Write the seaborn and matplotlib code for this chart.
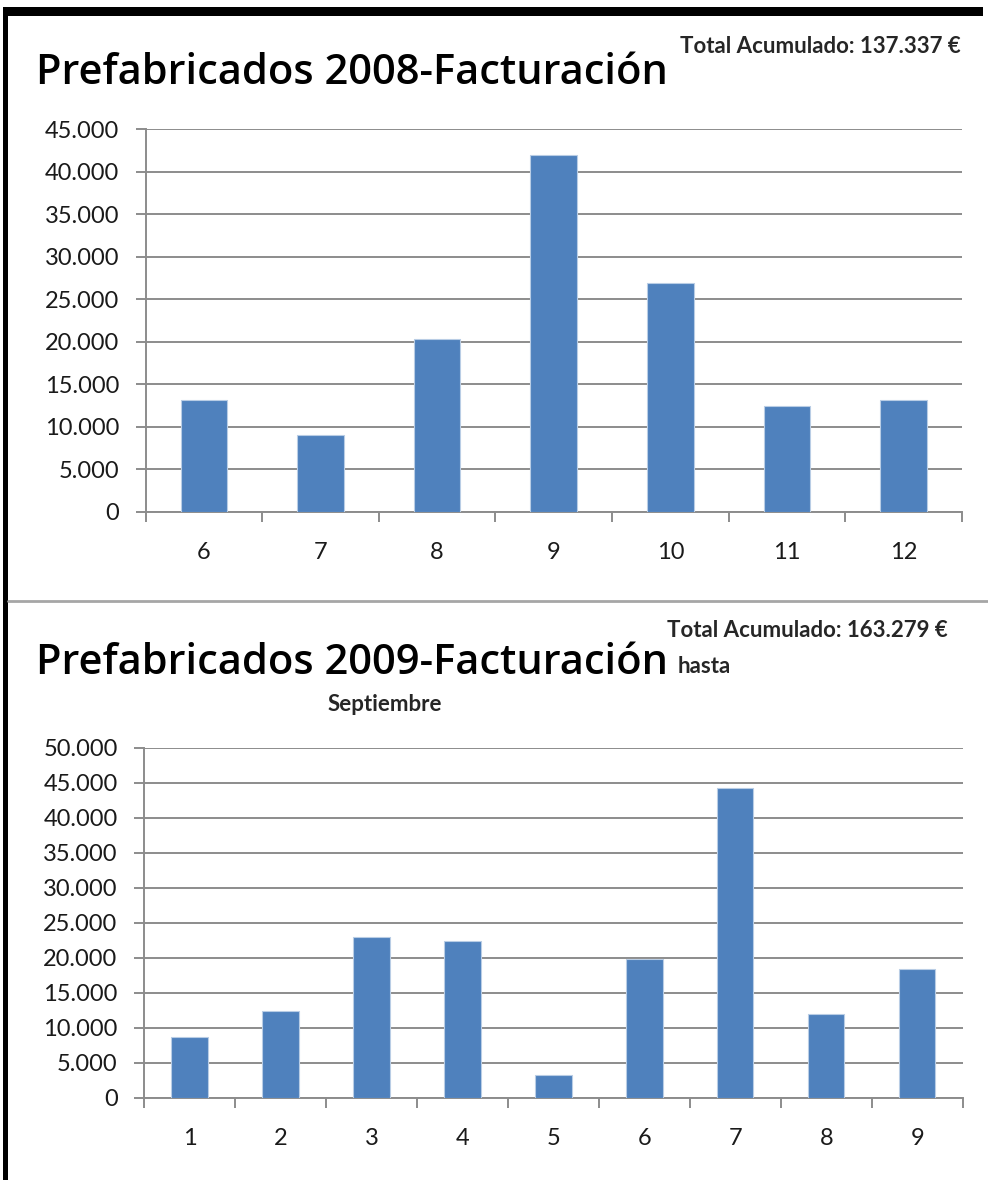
import matplotlib
matplotlib.use("Agg")
import matplotlib.pyplot as plt
from matplotlib.patches import Rectangle
from matplotlib.lines import Line2D
from matplotlib.ticker import FuncFormatter, FixedLocator
import seaborn as sns
import numpy as np
import pandas as pd

# --- data ---
months_2008 = ["6", "7", "8", "9", "10", "11", "12"]
fact_2008 = [13150, 9000, 20350, 42000, 26950, 12450, 13150]
total_2008 = "137.337 €"

months_2009 = ["1", "2", "3", "4", "5", "6", "7", "8", "9"]
fact_2009 = [8650, 12400, 22900, 22450, 3250, 19750, 44300, 11950, 18450]
total_2009 = "163.279 €"

BAR_COLOR = "#4f81bd"
GRID_COLOR = "#8c8c8c"
FONT = ["Lato", "DejaVu Sans"]
TITLE_FONT = ["Open Sans", "DejaVu Sans"]

sns.set_style("white")
plt.rcParams["font.family"] = FONT

W, H = 988, 1180
fig = plt.figure(figsize=(W / 100, H / 100), dpi=100)


def px_ax(left, top, right, bottom):
    return fig.add_axes([left / W, 1 - bottom / H, (right - left) / W, (bottom - top) / H])


def thousands(v, pos):
    return f"{int(v):,}".replace(",", ".")


def style_bars(ax, cats, vals, ymax, step):
    df = pd.DataFrame({"mes": cats, "valor": vals})
    sns.barplot(data=df, x="mes", y="valor", color=BAR_COLOR, width=0.4,
                edgecolor="#b9cde5", linewidth=0.8, saturation=1, ax=ax, zorder=3)
    n = len(cats)
    ax.set_xlim(-0.5, n - 0.5)
    ax.set_ylim(0, ymax)
    ax.set_yticks(np.arange(0, ymax + 1, step))
    ax.yaxis.set_major_formatter(FuncFormatter(thousands))
    ax.yaxis.grid(True, color=GRID_COLOR, linewidth=1.4, zorder=0)
    ax.set_axisbelow(True)
    ax.set_xlabel("")
    ax.set_ylabel("")
    for s in ["top", "right"]:
        ax.spines[s].set_visible(False)
    for s in ["left", "bottom"]:
        ax.spines[s].set_color(GRID_COLOR)
        ax.spines[s].set_linewidth(1.4)
    # category-boundary tick marks like Excel
    ax.xaxis.set_minor_locator(FixedLocator(np.arange(-0.5, n, 1.0)))
    ax.tick_params(axis="x", which="major", length=0, pad=22, labelsize=17, labelcolor="#1a1a1a")
    ax.tick_params(axis="x", which="minor", length=7, width=1.4, color=GRID_COLOR, direction="out")
    ax.tick_params(axis="y", which="major", length=7, width=1.4, color=GRID_COLOR,
                   direction="out", pad=12, labelsize=17, labelcolor="#1a1a1a")
    ax.tick_params(left=True, bottom=True, which="both")


# top chart
ax1 = px_ax(145.7, 129.3, 961.7, 511.7)
style_bars(ax1, months_2008, fact_2008, 45000, 5000)

# bottom chart
ax2 = px_ax(144, 747.7, 962.7, 1097.7)
style_bars(ax2, months_2009, fact_2009, 50000, 5000)

# titles
fig.text(36 / W, 1 - 84 / H, "Prefabricados 2008-Facturación", fontsize=30, family=TITLE_FONT,
         fontweight="semibold", color="black", ha="left", va="baseline")
fig.text(961 / W, 1 - 53 / H, "Total Acumulado: " + total_2008, fontsize=16, fontweight="bold",
         ha="right", va="baseline")

fig.text(36 / W, 1 - 674 / H, "Prefabricados 2009-Facturación", fontsize=30, family=TITLE_FONT,
         fontweight="semibold", color="black", ha="left", va="baseline")
fig.text(678 / W, 1 - 673 / H, "hasta", fontsize=16, fontweight="bold", ha="left", va="baseline")
fig.text(385 / W, 1 - 711 / H, "Septiembre", fontsize=16, fontweight="bold", ha="center",
         va="baseline")
fig.text(948 / W, 1 - 637 / H, "Total Acumulado: " + total_2009, fontsize=16, fontweight="bold",
         ha="right", va="baseline")

# frame: black border top and left, grey separator
fig.add_artist(Rectangle((3 / W, 1 - 16 / H), 980 / W, 9 / H, transform=fig.transFigure,
                         facecolor="black", edgecolor="none"))
fig.add_artist(Rectangle((3 / W, 0), 5 / W, 1 - 7 / H, transform=fig.transFigure,
                         facecolor="black", edgecolor="none"))
fig.add_artist(Line2D([8 / W, 1], [1 - 600.5 / H, 1 - 600.5 / H], transform=fig.transFigure,
                      color="#a6a6a6", linewidth=2))

fig.savefig("out.png", dpi=100, facecolor="white")
